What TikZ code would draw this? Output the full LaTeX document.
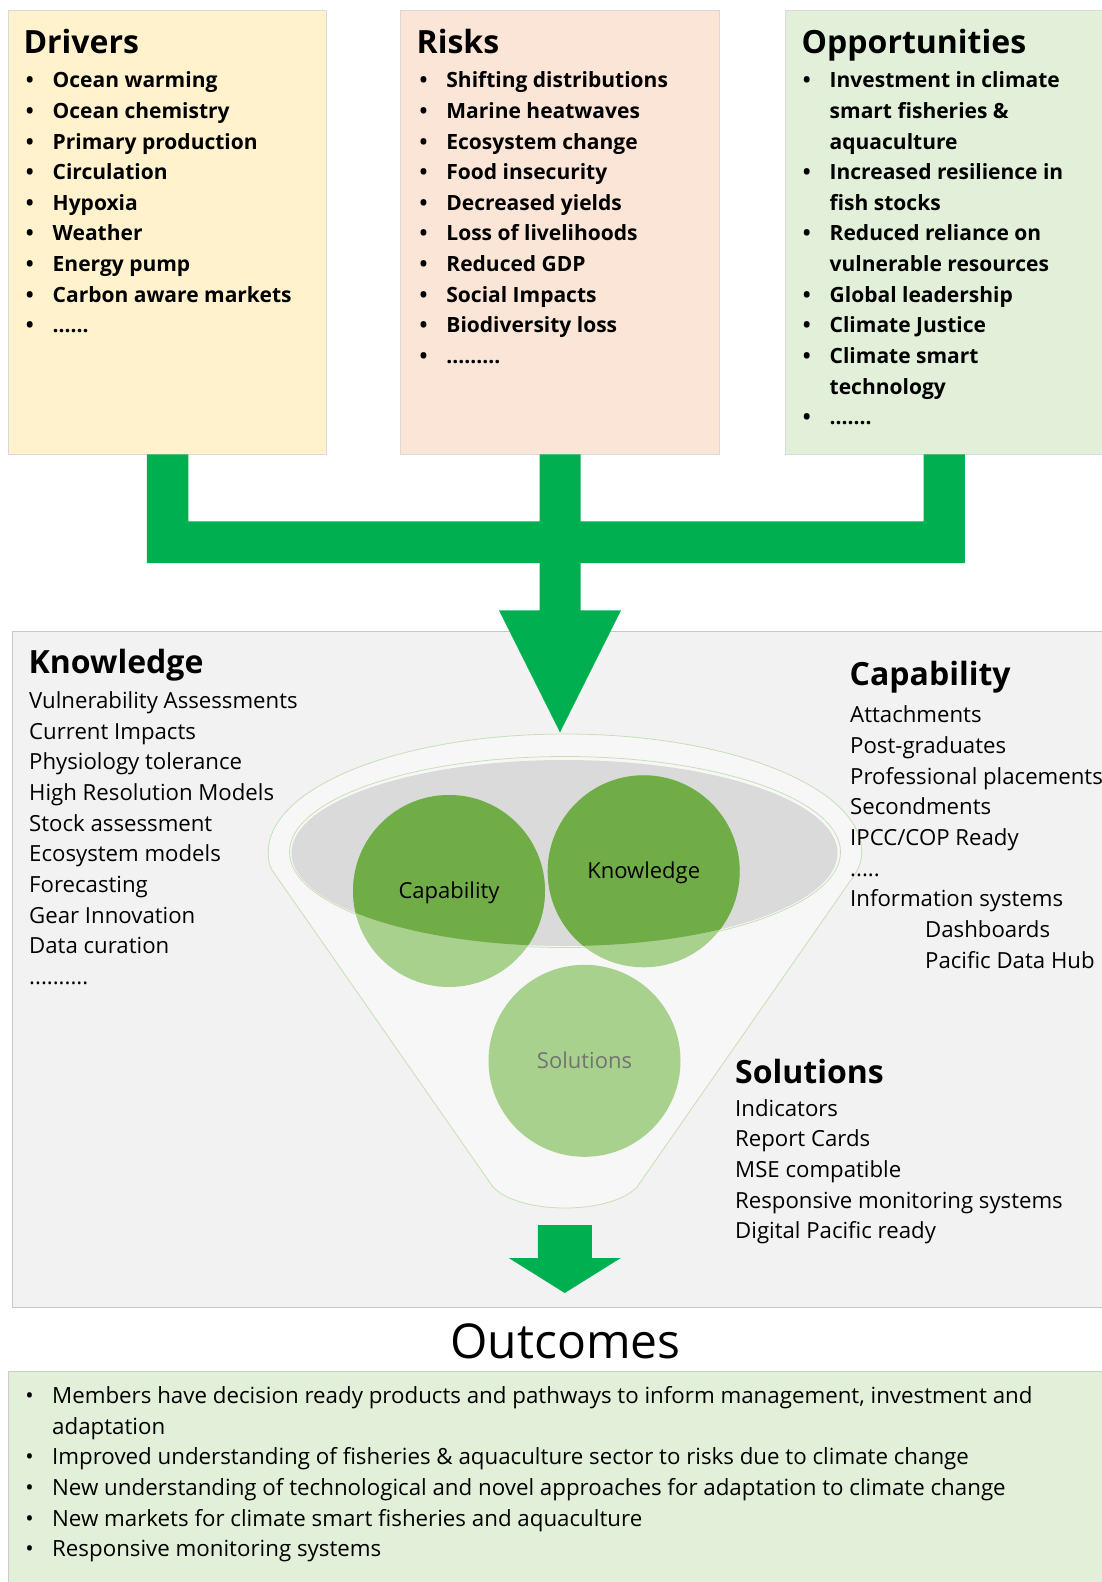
\documentclass[tikz,border=0pt]{standalone}
\usepackage{fontspec}
\setmainfont{Open Sans}
\usetikzlibrary{calc}
\definecolor{drivfill}{HTML}{FFF2CC}
\definecolor{riskfill}{HTML}{FBE5D6}
\definecolor{oppfill}{HTML}{E2F0D9}
\definecolor{panelfill}{HTML}{F2F2F2}
\definecolor{flowgreen}{HTML}{00B050}
\definecolor{funnelfill}{HTML}{F7F7F7}
\definecolor{rimline}{HTML}{C5E0B4}
\definecolor{greyoval}{HTML}{DADADA}
\definecolor{darkdisc}{HTML}{70AD47}
\definecolor{lightdisc}{HTML}{A9D18E}
\newcommand{\itemdot}{\makebox[26.8pt][l]{•}}
\newcommand{\itemgap}{\hspace*{26.8pt}}

\begin{document}
\begin{tikzpicture}[x=1pt, y=-1pt]
	% `topbox' is used for the three boxes along the top.
	% `greendisc' is used for the circles inside the funnel.
	\tikzstyle{topbox} = [draw=black!15, line width=0.8pt, minimum width=318.4, minimum height=444, inner sep=0pt]
	\tikzstyle{heading} = [anchor=base west, inner sep=0pt, font=\fontsize{32}{36}\selectfont\bfseries]
	\tikzstyle{toplist} = [anchor=north west, align=left, inner sep=0pt, font=\fontsize{21}{30.65}\selectfont\bfseries]
	\tikzstyle{listing} = [anchor=north west, align=left, inner sep=0pt, font=\fontsize{22.2}{30.65}\selectfont]
	\tikzstyle{greendisc} = [circle, fill=lightdisc, minimum size=192, inner sep=0pt]
	\tikzstyle{disclabel} = [anchor=base, inner sep=0pt, font=\fontsize{22}{26}\selectfont]
	\tikzstyle{flow} = [fill=flowgreen]
	\tikzstyle{rim} = [draw=rimline, line width=0.8pt]
	%
	\useasboundingbox (0,0) rectangle (1102,1582);
	\fill[white] (0,0) rectangle (1102,1582);
	% Boxes along the top.
	\node[topbox, fill=drivfill] (drivers) at (167.6,232) {};
	\node[topbox, fill=riskfill] (risks) at (560,232) {};
	\node[topbox, fill=oppfill] (opps) at (944.2,232) {};
	% Grey panel and outcomes box.
	\filldraw[fill=panelfill, draw=black!22, line width=0.8pt] (12.6,631) rectangle (1112,1307);
	\filldraw[fill=oppfill, draw=black!20, line width=0.8pt] (8.4,1371) rectangle (1112,1592);
	% Green arrow joining the three boxes.
	\fill[flow] ($(drivers.south)+(-20.8,0)$) -- ($(drivers.south)+(20.8,0)$)
		-- ($(drivers.south)+(20.8,67)$) -- ($(risks.south)+(-20.5,67)$)
		-- ($(risks.south)+(-20.5,0)$) -- ($(risks.south)+(20.5,0)$)
		-- ($(risks.south)+(20.5,67)$) -- ($(opps.south)+(-20.6,67)$)
		-- ($(opps.south)+(-20.6,0)$) -- ($(opps.south)+(20.6,0)$)
		-- ($(opps.south)+(20.6,108.7)$) -- ($(risks.south)+(20.5,108.7)$)
		-- ($(risks.south)+(20.5,156)$) -- ($(risks.south)+(61,156)$)
		-- ($(risks.south)+(0,278)$) -- ($(risks.south)+(-61,156)$)
		-- ($(risks.south)+(-20.5,156)$) -- ($(risks.south)+(-20.5,108.7)$)
		-- ($(drivers.south)+(-20.8,108.7)$) -- cycle;
	% Funnel.
	\filldraw[rim, fill=funnelfill] (268.3,852) arc[start angle=180, end angle=360, x radius=296.7, y radius=118]
		.. controls (861.7,862) and (858,870) .. (853,877) -- (637,1187)
		.. controls (610,1215) and (520,1215) .. (493,1187) -- (272,870)
		.. controls (268.3,864) and (268.3,858) .. cycle;
	\filldraw[rim, fill=funnelfill] (565,852) ellipse[x radius=275.5, y radius=95.5];
	\fill[greyoval] (564.5,853) ellipse[x radius=273, y radius=93];
	\node[greendisc] (capdisc) at (449,891) {};
	\node[greendisc] (knowdisc) at (643.7,871.3) {};
	\node[greendisc] (soldisc) at (584.5,1060.8) {};
	\begin{scope}
		\clip (564.5,853) ellipse[x radius=273, y radius=93];
		\fill[darkdisc] (capdisc.center) circle[radius=96];
		\fill[darkdisc] (knowdisc.center) circle[radius=96];
	\end{scope}
	\node[disclabel] (caplabel) at ($(capdisc.center)+(0,7.5)$) {Capability};
	\node[disclabel] (knowlabel) at ($(knowdisc.center)+(0,7.5)$) {Knowledge};
	\node[disclabel, text=black!55] (sollabel) at ($(soldisc.center)+(0,7.5)$) {Solutions};
	% Arrow out of the funnel.
	\coordinate (spout) at (564.75,1225);
	\fill[flow] ($(spout)+(-27,0)$) -- ($(spout)+(27,0)$) -- ($(spout)+(27,33)$)
		-- ($(spout)+(56,33)$) -- ($(spout)+(0,68)$) -- ($(spout)+(-56,33)$)
		-- ($(spout)+(-27,33)$) -- cycle;
	% Texts of the top boxes.
	\node[heading] (drivtitle) at (23.3,53.3) {Drivers};
	\node[heading] (risktitle) at (416.5,53.3) {Risks};
	\node[heading] (opptitle) at (801.5,53.3) {Opportunities};
	\node[toplist] (drivlist) at (25.7,66.05) {\strut\itemdot Ocean warming\\ \itemdot Ocean chemistry\\
		\itemdot Primary production\\ \itemdot Circulation\\ \itemdot Hypoxia\\ \itemdot Weather\\
		\itemdot Energy pump\\ \itemdot Carbon aware markets\\ \itemdot ......};
	\node[toplist] (risklist) at (419.4,66.05) {\strut\itemdot Shifting distributions\\ \itemdot Marine heatwaves\\
		\itemdot Ecosystem change\\ \itemdot Food insecurity\\ \itemdot Decreased yields\\
		\itemdot Loss of livelihoods\\ \itemdot Reduced GDP\\ \itemdot Social Impacts\\
		\itemdot Biodiversity loss\\ \itemdot .........};
	\node[toplist] (opplist) at (802.7,66.05) {\strut\itemdot Investment in climate\\ \itemgap smart fisheries \&\\
		\itemgap aquaculture\\ \itemdot Increased resilience in\\ \itemgap fish stocks\\
		\itemdot Reduced reliance on\\ \itemgap vulnerable resources\\ \itemdot Global leadership\\
		\itemdot Climate Justice\\ \itemdot Climate smart\\ \itemgap technology\\ \itemdot .......};
	% Texts of the grey panel.
	\node[heading] (knowtitle) at (28.5,673) {Knowledge};
	\node[listing] (knowlist) at (29,686.85) {\strut Vulnerability Assessments\\ Current Impacts\\
		Physiology tolerance\\ High Resolution Models\\ Stock assessment\\ Ecosystem models\\
		Forecasting\\ Gear Innovation\\ Data curation\\ ..........};
	\node[heading] (captitle) at (849.5,685) {Capability};
	\node[listing] (caplist) at (850,701.25) {\strut Attachments\\ Post-graduates\\ Professional placements\\
		Secondments\\ IPCC/COP Ready\\ .....\\ Information systems\\
		\hspace*{75pt}Dashboards\\ \hspace*{75pt}Pacific Data Hub};
	\node[heading] (soltitle) at (735,1083.3) {Solutions};
	\node[listing] (sollist) at (735,1094.55) {\strut Indicators\\ Report Cards\\ MSE compatible\\
		Responsive monitoring systems\\ Digital Pacific ready};
	% Outcomes.
	\node[anchor=base, inner sep=0pt, font=\fontsize{48}{56}\selectfont] (outtitle) at (565.5,1358.3) {Outcomes};
	\node[listing, font=\fontsize{22.3}{30.65}\selectfont] (outlist) at (25.2,1381.85) {\strut\itemdot Members have decision ready products and pathways to inform management, investment and\\
		\itemgap adaptation\\
		\itemdot Improved understanding of fisheries \& aquaculture sector to risks due to climate change\\
		\itemdot New understanding of technological and novel approaches for adaptation to climate change\\
		\itemdot New markets for climate smart fisheries and aquaculture\\
		\itemdot Responsive monitoring systems};
\end{tikzpicture}
\end{document}
